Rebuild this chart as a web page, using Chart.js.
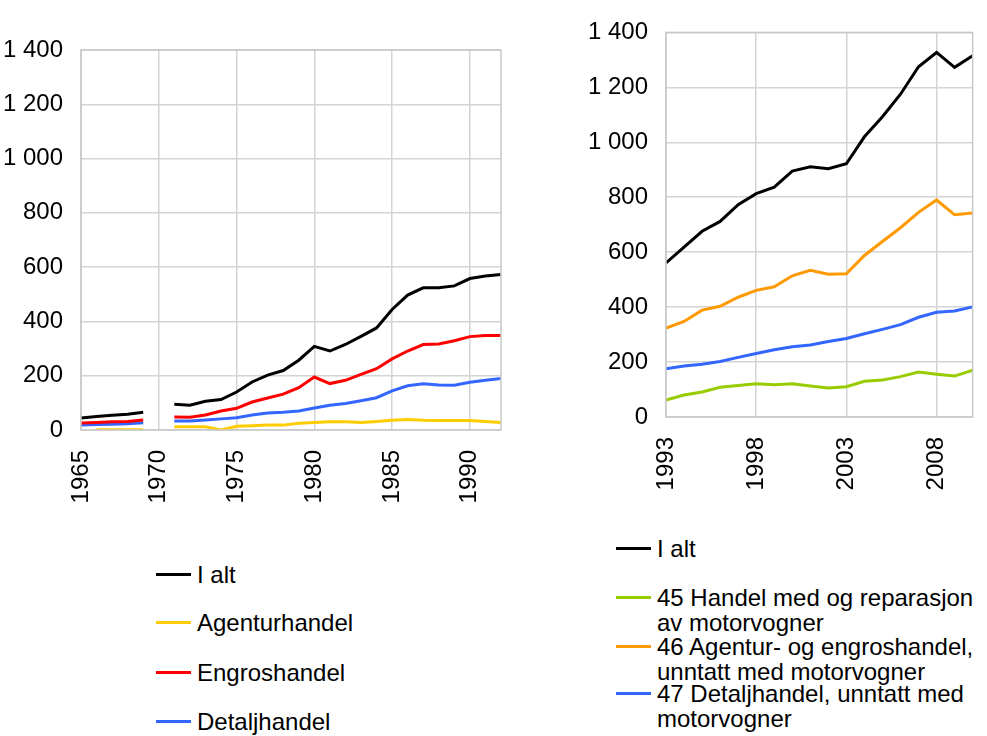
<!DOCTYPE html>
<html>
<head>
<meta charset="utf-8">
<script src="https://cdn.jsdelivr.net/npm/chart.js@4"></script>
<style>
  body { margin: 0; background: #fff; font-family: "Liberation Sans", Arial, sans-serif; }
  #wrap { position: relative; width: 987px; height: 736px; overflow: hidden; }
  canvas { position: absolute; }
  .legend { position: absolute; font-size: 24px; color: #000; }
  .item { position: absolute; left: 0; display: flex; align-items: flex-start; }
  .swatch { width: 35px; height: 3px; margin-right: 6px; flex: none; }
  .txt { line-height: 25px; }
</style>
</head>
<body>
<div id="wrap">
  <canvas id="oldChart" style="left:0;top:0"></canvas>
  <canvas id="newChart" style="left:580px;top:0"></canvas>
  <div id="oldLegend" class="legend" style="left:156px;top:0;width:300px"></div>
  <div id="newLegend" class="legend" style="left:616px;top:0;width:371px"></div>
</div>
<script>
// Left panel: 1965-1992 (no data for 1970)
const oldYears = [1965,1966,1967,1968,1969,1970,1971,1972,1973,1974,1975,1976,1977,1978,1979,
                  1980,1981,1982,1983,1984,1985,1986,1987,1988,1989,1990,1991,1992];
const oldTotal  = [44,50,54,58,65,null,95,91,106,112,140,177,202,219,257,308,291,315,345,376,444,497,524,524,531,558,567,573];
const oldAgent  = [null,1,1,1,1,null,12,12,12,0,14,16,18,18,25,28,30,30,28,31,36,39,36,35,35,35,31,28];
const oldEngros = [26,28,30,31,37,null,48,47,55,70,80,103,118,132,156,195,171,183,205,226,262,291,315,317,329,344,348,348];
const oldDetalj = [18,20,21,23,27,null,33,33,37,41,45,55,63,65,70,81,91,98,108,119,144,163,170,166,165,176,183,190];
const oldTicks  = [1965,1970,1975,1980,1985,1990];

// Right panel: 1993-2010
const newYears = [1993,1994,1995,1996,1997,1998,1999,2000,2001,2002,2003,2004,2005,2006,2007,2008,2009,2010];
const newTotal  = [561,618,676,712,773,813,837,895,911,904,922,1020,1093,1175,1275,1327,1273,1315];
const newMotor  = [62,80,91,108,115,121,117,121,113,106,110,130,135,147,164,156,149,170];
const newEngros = [324,348,389,403,436,461,474,514,534,520,521,588,639,689,745,790,736,743];
const newDetalj = [176,186,192,202,217,231,245,256,262,275,286,303,319,336,363,381,386,401];
const newTicks  = [1993,1998,2003,2008];

const yTicks = [0,200,400,600,800,1000,1200,1400];

function pts(years, vals) {
  return years.map((yr, i) => ({ x: yr, y: vals[i] }));
}

function fmt(v) {
  if (v >= 1000) return Math.floor(v / 1000) + ' ' + String(v % 1000).padStart(3, '0');
  return String(v);
}

const frame = {
  id: 'frame',
  afterDatasetsDraw(chart) {
    const a = chart.chartArea, c = chart.ctx;
    c.save();
    c.strokeStyle = '#c8c8c8';
    c.lineWidth = 1.5;
    c.strokeRect(a.left, a.top, a.right - a.left, a.bottom - a.top);
    c.restore();
  }
};

function makeChart(id, w, h, yW, xH, pad, xMin, xMax, ticks, datasets) {
  const el = document.getElementById(id);
  el.width = w; el.height = h;
  el.style.width = w + 'px'; el.style.height = h + 'px';
  return new Chart(el, {
    type: 'line',
    data: { datasets: datasets },
    options: {
      responsive: false,
      animation: false,
      devicePixelRatio: 1,
      layout: { padding: pad },
      plugins: { legend: { display: false }, tooltip: { enabled: false } },
      elements: { point: { radius: 0 }, line: { borderWidth: 3, tension: 0 } },
      scales: {
        x: {
          type: 'linear',
          min: xMin, max: xMax,
          afterBuildTicks: s => { s.ticks = ticks.map(v => ({ value: v })); },
          afterFit: s => { s.height = xH; },
          grid: { color: '#d4d4d4', lineWidth: 1.5, drawTicks: false },
          border: { display: false },
          ticks: {
            autoSkip: false, minRotation: 90, maxRotation: 90, padding: 20,
            color: '#000', font: { family: 'Liberation Sans', size: 24 },
            callback: v => String(v)
          }
        },
        y: {
          min: 0, max: 1400,
          afterBuildTicks: s => { s.ticks = yTicks.map(v => ({ value: v })); },
          afterFit: s => { s.width = yW; },
          grid: { color: '#d4d4d4', lineWidth: 1.5, drawTicks: false },
          border: { display: false },
          ticks: {
            padding: 18, color: '#000', font: { family: 'Liberation Sans', size: 24 },
            callback: v => fmt(v)
          }
        }
      }
    },
    plugins: [frame]
  });
}

const oldSets = [
  { label: 'I alt', data: pts(oldYears, oldTotal), borderColor: '#000000' },
  { label: 'Agenturhandel', data: pts(oldYears, oldAgent), borderColor: '#FFCC00' },
  { label: 'Engroshandel', data: pts(oldYears, oldEngros), borderColor: '#FF0000' },
  { label: 'Detaljhandel', data: pts(oldYears, oldDetalj), borderColor: '#3366FF' }
];
const newSets = [
  { label: 'I alt', data: pts(newYears, newTotal), borderColor: '#000000' },
  { label: '45 Handel med og reparasjon av motorvogner', data: pts(newYears, newMotor), borderColor: '#99CC00' },
  { label: '46 Agentur- og engroshandel, unntatt med motorvogner', data: pts(newYears, newEngros), borderColor: '#FF9900' },
  { label: '47 Detaljhandel, unntatt med motorvogner', data: pts(newYears, newDetalj), borderColor: '#3366FF' }
];

const c1 = makeChart('oldChart', 520, 520, 81, 90, { top: 50, right: 18, left: 0, bottom: 0 }, 1965, 1992, oldTicks, oldSets);
const c2 = makeChart('newChart', 407, 510, 86, 93, { top: 27, right: 14, left: 0, bottom: 0 }, 1993, 2010, newTicks, newSets);

// HTML legends built from the chart datasets
function legend(chart, boxId, tops) {
  const box = document.getElementById(boxId);
  chart.data.datasets.forEach((ds, i) => {
    const item = document.createElement('div');
    item.className = 'item';
    item.style.top = tops[i] + 'px';
    const sw = document.createElement('div');
    sw.className = 'swatch';
    sw.style.background = ds.borderColor;
    sw.style.marginTop = '11px';
    const t = document.createElement('div');
    t.className = 'txt';
    t.textContent = ds.label;
    item.appendChild(sw); item.appendChild(t);
    box.appendChild(item);
  });
}
legend(c1, 'oldLegend', [562, 610, 660, 709]);
legend(c2, 'newLegend', [536, 585, 634, 681]);
</script>
</body>
</html>
